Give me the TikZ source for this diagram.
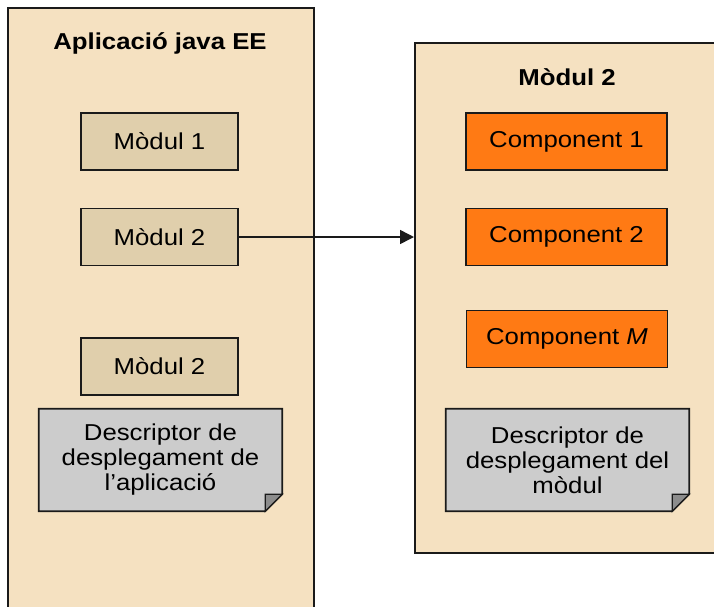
\documentclass[tikz,border=0pt]{standalone}
\usepackage{fontspec}
\setmainfont{Liberation Sans}[FakeStretch=1.12]
\usetikzlibrary{arrows.meta}
\definecolor{panelfill}{RGB}{245,225,193}
\definecolor{modfill}{RGB}{224,207,172}
\definecolor{compfill}{RGB}{255,122,20}
\definecolor{descfill}{RGB}{204,204,204}
\definecolor{foldfill}{RGB}{140,140,140}
\definecolor{edge}{RGB}{26,26,26}
\tikzset{
  x=1pt, y=-1pt,
  txt/.style={font=\fontsize{23}{25}\selectfont, align=center, text=black, inner sep=0pt},
  panel/.style={draw=edge, line width=1.8pt, fill=panelfill},
  modbox/.style={txt, draw=edge, line width=1.8pt, fill=modfill, minimum width=157pt, minimum height=57pt},
  compbox/.style={txt, draw=edge, line width=1.8pt, fill=compfill, minimum width=201pt, minimum height=57pt},
  descarea/.style={txt, minimum width=243pt, minimum height=102pt},
  docshape/.style={draw=edge, line width=1.8pt, fill=descfill, line join=miter},
  foldshape/.style={draw=edge, line width=1.2pt, fill=foldfill},
  title/.style={txt, font=\fontsize{23}{25}\selectfont\bfseries},
}
% folded-corner document outline around a node
\newcommand{\docoutline}[1]{%
  \draw[docshape] (#1.north west) -- (#1.north east) -- ([yshift=17pt]#1.south east)
    -- ([xshift=-17pt]#1.south east) -- (#1.south west) -- cycle;
  \draw[foldshape] ([xshift=-17pt,yshift=17pt]#1.south east) -- ([yshift=17pt]#1.south east)
    -- ([xshift=-17pt]#1.south east) -- cycle;}
\begin{document}
\begin{tikzpicture}
\clip (0,0) rectangle (714,606);
\fill[white] (0,0) rectangle (714,606);

% application container
\node[panel, anchor=north west, minimum width=306pt, minimum height=620pt, inner sep=0pt] (appl) at (7,7) {};
\node[title] (applT) at (160,43) {Aplicació java EE};

\node[modbox] (modA) at (159.5,141.5) {Mòdul 1};
\node[modbox] (modB) at (159.5,237) {Mòdul 2};
\node[modbox] (modC) at (159.5,366.5) {Mòdul 2};

\node[descarea] (descA) at (160.5,460) {};
\docoutline{descA}
\node[txt] at (descA.center) {Descriptor de\\desplegament de\\l’aplicació};

% module container
\node[panel, anchor=north west, minimum width=320pt, minimum height=510pt, inner sep=0pt] (modP) at (414,42) {};
\node[title] (modPT) at (567,77) {Mòdul 2};

\node[compbox] (compA) at (566.5,141.5) {Component 1};
\node[compbox] (compB) at (566.5,237) {Component 2};
\node[compbox] (compM) at (567,339) {Component \textit{M}};

\node[descarea] (descB) at (567.5,460) {};
\docoutline{descB}
\node[txt] at (descB.center) {Descriptor de\\desplegament del\\mòdul};

% link from the module entry to its expanded view
\draw[edge, line width=1.5pt, -{Triangle[length=14pt,width=14pt]}] (modB.east) -- (modB.east -| modP.west);
\end{tikzpicture}
\end{document}
